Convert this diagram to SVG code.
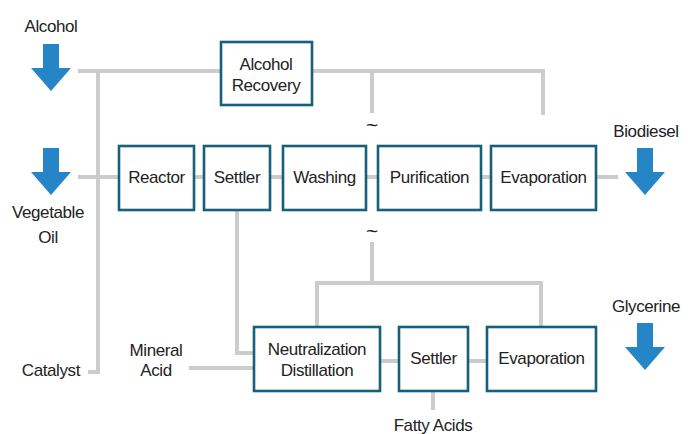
<svg xmlns="http://www.w3.org/2000/svg" width="695" height="434" viewBox="0 0 695 434">
<style>
.box{fill:#fff;stroke:#17607a;stroke-width:2.6}
.ln{fill:none;stroke:#cccccc;stroke-width:4}
.t{font-family:"Liberation Sans",Arial,sans-serif;font-size:17px;fill:#222;letter-spacing:-0.4px;text-anchor:middle}
.tl{font-size:21px}
.arr{fill:#2585c7}
</style>
<defs>
<path id="arrow" d="M-8,0 H8 V24 H20 L0,47 L-20,24 H-8 Z"/>
</defs>
<rect width="695" height="434" fill="#fff"/>
<g id="connectors">
<path class="ln" d="M78,71 H543 V115"/>
<path class="ln" d="M372,71 V113"/>
<path class="ln" d="M98,71 V372 H88"/>
<path class="ln" d="M78,177 H618"/>
<path class="ln" d="M237,210 V353 H254"/>
<path class="ln" d="M189,368 H254"/>
<path class="ln" d="M380,361 H487"/>
<path class="ln" d="M372,242 V283"/>
<path class="ln" d="M317,327 V283 H541 V327"/>
<path class="ln" d="M433,391 V410"/>
</g>
<g id="alcohol-in"><use href="#arrow" class="arr" x="51" y="44"/><text class="t" x="51" y="32">Alcohol</text></g>
<g id="oil-in"><use href="#arrow" class="arr" x="51" y="148"/><text class="t" x="48" y="218">Vegetable</text><text class="t" x="48" y="243">Oil</text></g>
<g id="catalyst"><text class="t" x="80" y="376" style="text-anchor:end">Catalyst</text></g>
<g id="mineral-acid"><text class="t" x="156" y="356">Mineral</text><text class="t" x="156" y="376">Acid</text></g>
<g id="biodiesel-out"><use href="#arrow" class="arr" x="645" y="148"/><text class="t" x="646" y="137">Biodiesel</text></g>
<g id="glycerine-out"><use href="#arrow" class="arr" x="645" y="323"/><text class="t" x="646" y="312">Glycerine</text></g>
<g id="alcohol-recovery"><rect class="box" x="221" y="42" width="91" height="63"/><text class="t" x="266" y="70">Alcohol</text><text class="t" x="266" y="91">Recovery</text></g>
<g id="reactor"><rect class="box" x="119" y="146" width="75" height="64"/><text class="t" x="156.5" y="183">Reactor</text></g>
<g id="settler1"><rect class="box" x="204" y="146" width="66" height="64"/><text class="t" x="237" y="183">Settler</text></g>
<g id="washing"><rect class="box" x="283" y="146" width="83" height="64"/><text class="t" x="324.5" y="183">Washing</text></g>
<g id="purification"><rect class="box" x="378" y="146" width="103" height="64"/><text class="t" x="429.5" y="183">Purification</text></g>
<g id="evaporation1"><rect class="box" x="491" y="146" width="105" height="64"/><text class="t" x="543.5" y="183">Evaporation</text></g>
<g id="tilde1"><text class="t tl" x="372" y="132">~</text></g>
<g id="tilde2"><text class="t tl" x="372" y="238">~</text></g>
<g id="neutralization"><rect class="box" x="254" y="327" width="126" height="64"/><text class="t" x="317" y="355">Neutralization</text><text class="t" x="317" y="376">Distillation</text></g>
<g id="settler2"><rect class="box" x="399" y="327" width="69" height="64"/><text class="t" x="433.5" y="364">Settler</text></g>
<g id="evaporation2"><rect class="box" x="487" y="327" width="109" height="64"/><text class="t" x="541.5" y="364">Evaporation</text></g>
<g id="fatty-acids"><text class="t" x="433" y="431">Fatty Acids</text></g>
</svg>
